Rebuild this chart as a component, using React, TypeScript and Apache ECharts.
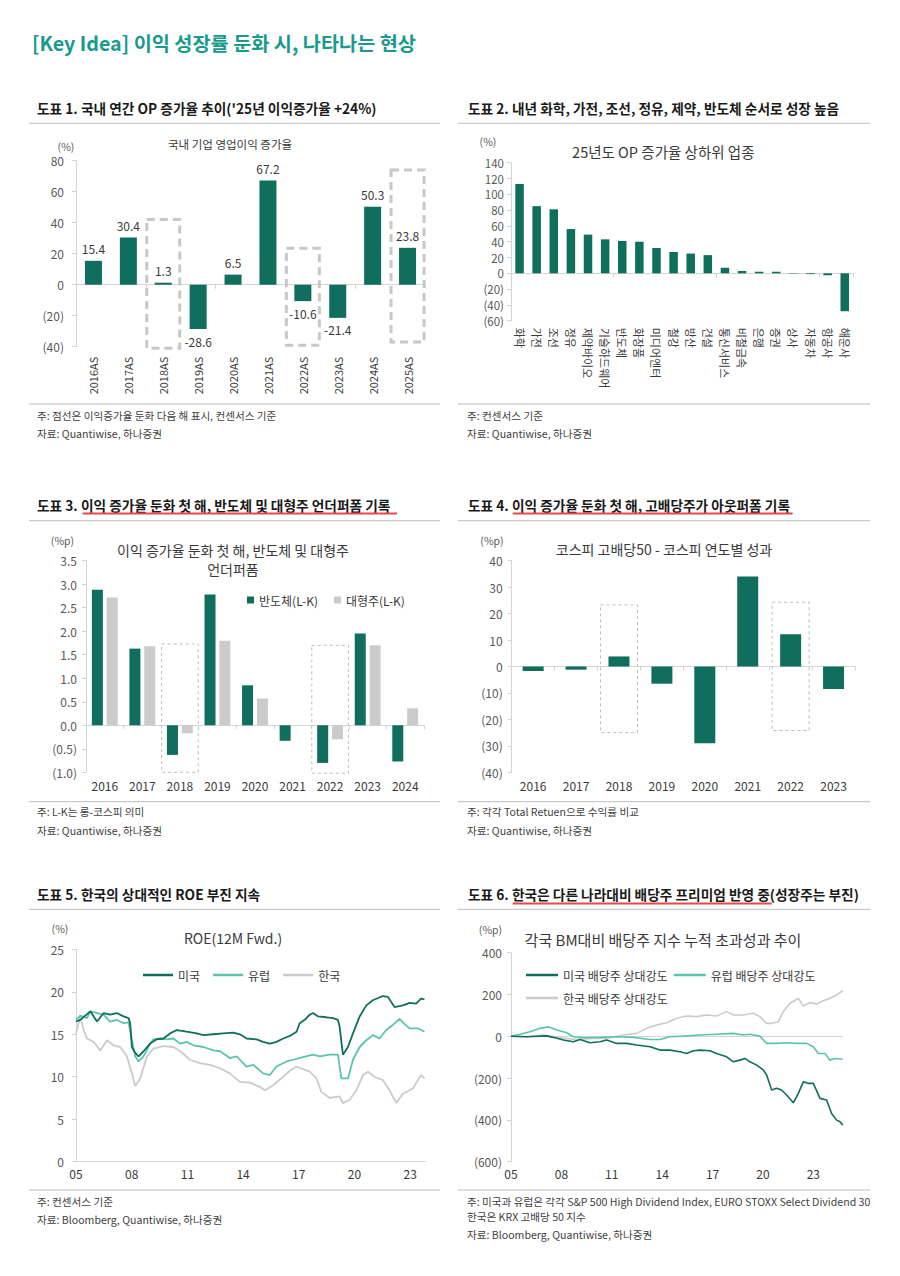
import React, { useEffect, useRef } from "react";
import * as echarts from "echarts";

const FONT = "'Noto Sans CJK KR', 'Noto Sans', sans-serif";
const DARK = "#0f6e5c";
const TEAL = "#5cc4ae";
const LGRAY = "#cbcbcb";
const AXIS = "#d4d4d4";
const LABEL = "#595959";
const TEXT = "#3a3a3a";

// ---------- Chart 1 ----------
const c1Cats = ["2016AS", "2017AS", "2018AS", "2019AS", "2020AS", "2021AS", "2022AS", "2023AS", "2024AS", "2025AS"];
const c1Vals = [15.4, 30.4, 1.3, -28.6, 6.5, 67.2, -10.6, -21.4, 50.3, 23.8];
const c1BoxCats = ["2018AS", "2022AS", "2025AS"];
const c1BoxTop = [42, 23.5, 74];
const c1BoxBottom = [-41, -39, -37];

// ---------- Chart 2 ----------
const c2Cats = ["화학", "가전", "조선", "정유", "제약바이오", "기술하드웨어", "반도체", "화장품", "미디어엔터", "철강", "방산", "건설", "통신서비스", "비철금속", "은행", "증권", "상사", "자동차", "항공사", "해운사"];
const c2Vals = [113, 85, 81, 56, 49, 43, 41, 40, 32, 27, 25, 23, 7, 3, 2, 2, -0.5, -1, -2.5, -48];

// ---------- Chart 3 ----------
const c3Years = ["2016", "2017", "2018", "2019", "2020", "2021", "2022", "2023", "2024"];
const c3Semi = [2.88, 1.63, -0.63, 2.78, 0.85, -0.33, -0.8, 1.95, -0.77];
const c3Large = [2.72, 1.68, -0.17, 1.8, 0.57, 0, -0.3, 1.7, 0.36];
const c3BoxCats = ["2018", "2022"];
const c3BoxTop = [1.73, 1.7];
const c3BoxBottom = [-1.0, -1.02];

// ---------- Chart 4 ----------
const c4Years = ["2016", "2017", "2018", "2019", "2020", "2021", "2022", "2023"];
const c4Vals = [-1.7, -1.2, 3.8, -6.5, -29, 34, 12.2, -8.5];
const c4BoxCats = ["2018", "2022"];
const c4BoxTop = [23.3, 24.3];
const c4BoxBottom = [-25, -24.2];

// ---------- Chart 5 (ROE) ----------
const usT = [2005.0, 2005.23, 2005.77, 2006.13, 2006.49, 2006.84, 2007.2, 2007.56, 2007.83, 2007.92, 2008.01, 2008.19, 2008.37, 2008.64, 2008.99, 2009.35, 2009.71, 2010.07, 2010.43, 2010.96, 2011.5, 2011.86, 2012.4, 2012.93, 2013.47, 2013.83, 2014.19, 2014.73, 2015.08, 2015.44, 2015.8, 2016.16, 2016.52, 2016.88, 2017.05, 2017.32, 2017.59, 2017.77, 2018.04, 2018.49, 2018.85, 2019.11, 2019.2, 2019.38, 2019.65, 2019.92, 2020.28, 2020.64, 2020.99, 2021.53, 2021.8, 2022.16, 2022.61, 2022.97, 2023.32, 2023.59, 2023.77];
const usV = [16.5, 16.7, 17.7, 16.5, 17.5, 17.3, 17.5, 17.1, 16.9, 16.3, 13.5, 12.8, 12.4, 13.0, 13.9, 14.4, 14.5, 15.1, 15.5, 15.3, 15.1, 14.9, 15.0, 15.1, 15.2, 15.0, 14.5, 14.4, 14.1, 13.9, 14.1, 14.5, 14.8, 15.3, 16.3, 16.7, 17.3, 17.5, 17.1, 17.0, 16.9, 16.7, 15.9, 12.6, 13.5, 15.1, 17.1, 18.4, 19.0, 19.5, 19.4, 18.2, 18.4, 18.7, 18.6, 19.2, 19.1];
const euT = [2005.0, 2005.23, 2005.59, 2005.77, 2006.13, 2006.49, 2006.84, 2007.2, 2007.56, 2007.83, 2008.01, 2008.19, 2008.37, 2008.64, 2008.9, 2009.17, 2009.53, 2009.89, 2010.25, 2010.61, 2010.96, 2011.32, 2011.86, 2012.4, 2012.76, 2013.29, 2013.65, 2014.19, 2014.55, 2015.08, 2015.44, 2015.8, 2016.34, 2016.7, 2017.23, 2017.77, 2018.13, 2018.67, 2019.11, 2019.2, 2019.29, 2019.65, 2019.92, 2020.28, 2020.64, 2020.99, 2021.35, 2021.71, 2022.07, 2022.43, 2022.7, 2022.97, 2023.41, 2023.77];
const euV = [16.7, 17.2, 16.9, 17.7, 17.5, 17.3, 16.5, 16.7, 16.3, 16.4, 14.3, 12.4, 11.8, 12.4, 13.5, 14.4, 14.5, 14.4, 14.5, 13.9, 14.1, 13.7, 13.5, 13.1, 13.0, 12.2, 12.4, 11.2, 11.4, 10.4, 10.2, 11.2, 11.8, 12.0, 12.3, 12.6, 12.4, 12.6, 12.6, 11.2, 9.8, 9.8, 12.0, 13.5, 14.3, 14.9, 14.5, 15.5, 16.1, 16.8, 16.2, 15.7, 15.7, 15.3];
const krT = [2005.0, 2005.23, 2005.41, 2005.59, 2005.95, 2006.31, 2006.67, 2007.02, 2007.38, 2007.74, 2008.01, 2008.19, 2008.46, 2008.82, 2009.17, 2009.71, 2010.25, 2010.61, 2011.14, 2011.68, 2012.22, 2012.76, 2013.29, 2013.83, 2014.37, 2014.91, 2015.17, 2015.62, 2016.16, 2016.52, 2016.88, 2017.23, 2017.59, 2017.95, 2018.22, 2018.67, 2019.2, 2019.38, 2019.74, 2020.1, 2020.46, 2020.73, 2021.08, 2021.53, 2021.89, 2022.25, 2022.61, 2023.14, 2023.59, 2023.77];
const krV = [15.1, 17.1, 15.5, 14.5, 14.1, 13.1, 14.3, 13.7, 13.5, 12.4, 10.4, 8.9, 9.8, 12.4, 13.3, 13.6, 13.5, 13.0, 12.0, 11.6, 11.4, 11.0, 10.4, 9.4, 9.3, 8.8, 8.4, 9.0, 10.0, 10.7, 11.2, 10.9, 10.6, 9.8, 8.2, 7.5, 7.7, 6.9, 7.3, 8.4, 10.2, 10.6, 10.0, 9.6, 8.4, 6.9, 8.0, 8.6, 10.2, 9.8];

// ---------- Chart 6 (dividend relative strength) ----------
const usDivT = [2005.0, 2005.93, 2007.12, 2007.52, 2008.12, 2008.71, 2009.11, 2009.7, 2010.3, 2010.7, 2011.29, 2011.89, 2012.48, 2013.28, 2013.87, 2014.47, 2015.06, 2015.46, 2015.86, 2016.25, 2016.85, 2017.24, 2017.84, 2018.24, 2018.63, 2018.93, 2019.23, 2019.63, 2020.02, 2020.22, 2020.52, 2020.82, 2021.11, 2021.41, 2021.81, 2022.11, 2022.4, 2022.7, 2023.0, 2023.4, 2023.79, 2024.09, 2024.39, 2024.59, 2024.75];
const usDivV = [0, -2, 2, -5, -18, -26, -15, -31, -26, -18, -34, -34, -42, -50, -66, -66, -74, -82, -69, -66, -69, -82, -98, -122, -114, -106, -122, -138, -161, -185, -257, -249, -257, -281, -318, -273, -218, -225, -225, -297, -305, -369, -401, -409, -425];
const euDivT = [2005.0, 2005.54, 2006.13, 2006.73, 2007.22, 2007.72, 2008.31, 2008.71, 2009.31, 2010.3, 2011.29, 2012.28, 2013.28, 2013.87, 2014.47, 2015.26, 2016.25, 2017.24, 2018.24, 2018.83, 2019.23, 2019.82, 2020.22, 2020.82, 2021.41, 2022.01, 2022.6, 2023.0, 2023.3, 2023.69, 2023.99, 2024.29, 2024.75];
const euDivV = [0, 10, 22, 38, 46, 30, 17, -2, -7, -5, -2, -5, -15, -15, -2, 1, 6, 10, 14, 6, 10, 1, -34, -34, -31, -34, -34, -50, -82, -82, -114, -106, -110];
const krDivT = [2005.0, 2005.93, 2006.92, 2007.72, 2008.91, 2009.9, 2010.7, 2011.69, 2012.48, 2013.08, 2013.67, 2014.27, 2014.86, 2015.46, 2016.05, 2016.65, 2017.24, 2017.84, 2018.24, 2018.83, 2019.43, 2019.82, 2020.22, 2020.52, 2020.92, 2021.21, 2021.61, 2022.11, 2022.4, 2022.8, 2023.2, 2023.6, 2023.99, 2024.39, 2024.75];
const krDivV = [0, -2, 6, -5, -15, -10, -10, 6, 14, 38, 54, 65, 86, 97, 94, 102, 97, 118, 102, 102, 110, 94, 62, 62, 70, 118, 158, 182, 145, 161, 154, 170, 182, 198, 218];

const BASE_YEAR = 2005;

const paren = (d: number) => (v: number) => (v < 0 ? `(${(-v).toFixed(d)})` : v.toFixed(d));
const yearLabel = (v: number) => {
  const r = Math.round(v);
  if (Math.abs(v - r) > 1e-6 || r % 3 !== 0) return "";
  return String((BASE_YEAR + r) % 100).padStart(2, "0");
};
const pairs = (t: number[], v: number[]) => t.map((x, i) => [x - BASE_YEAR, v[i]]);

function yAx(grid: number, min: number, max: number, interval: number, fmt: any, margin: number, fontSize = 12) {
  return {
    type: "value", gridIndex: grid, min, max, interval,
    axisLine: { show: true, lineStyle: { color: AXIS } },
    axisTick: { show: true, length: 4, lineStyle: { color: AXIS } },
    splitLine: { show: false },
    axisLabel: { formatter: fmt, color: LABEL, fontSize, fontFamily: FONT, margin },
  };
}

function catAxes(grid: number, cats: string[], label: any) {
  return [
    {
      type: "category", gridIndex: grid, data: cats, position: "bottom",
      axisLine: { show: false, onZero: false }, axisTick: { show: false },
      axisLabel: { color: TEXT, fontFamily: FONT, interval: 0, ...label },
    },
    {
      type: "category", gridIndex: grid, data: cats, position: "bottom",
      axisLine: { show: true, onZero: true, lineStyle: { color: AXIS } },
      axisTick: { show: true, length: 4, lineStyle: { color: AXIS } },
      axisLabel: { show: false },
    },
  ];
}

function buildOption(): any {
  const grids = [
    { left: 76, top: 160.7, width: 349, height: 186 },
    { left: 511, top: 162.7, width: 342.3, height: 158 },
    { left: 86, top: 560.7, width: 338, height: 211.6 },
    { left: 511.7, top: 560.7, width: 343.3, height: 211.6 },
    { left: 76, top: 949.3, width: 349, height: 212.4 },
    { left: 511, top: 952.7, width: 331.7, height: 209 },
  ].map((g) => ({ ...g, containLabel: false, outerBoundsMode: "none" }));

  const xAxis: any[] = [
    ...catAxes(0, c1Cats, { rotate: 90, fontSize: 11, margin: 10 }),
    ...catAxes(1, c2Cats, { rotate: -90, fontSize: 11, margin: 7 }),
    ...catAxes(2, c3Years, { fontSize: 12, margin: 7 }),
    ...catAxes(3, c4Years, { fontSize: 12, margin: 7 }),
    {
      type: "value", gridIndex: 4, min: 0, max: 18.8, interval: 3,
      axisLine: { show: true, lineStyle: { color: AXIS } }, axisTick: { show: false },
      splitLine: { show: false },
      axisLabel: { formatter: yearLabel, color: TEXT, fontSize: 12, fontFamily: FONT, margin: 6, showMaxLabel: false },
    },
    {
      type: "value", gridIndex: 5, min: 0, max: 19.75, interval: 3, position: "bottom",
      axisLine: { show: false, onZero: false }, axisTick: { show: false }, splitLine: { show: false },
      axisLabel: { formatter: yearLabel, color: TEXT, fontSize: 12, fontFamily: FONT, margin: 6, showMaxLabel: false },
    },
    {
      type: "value", gridIndex: 5, min: 0, max: 19.75, interval: 3, position: "bottom",
      axisLine: { show: true, onZero: true, lineStyle: { color: AXIS } }, axisTick: { show: false },
      splitLine: { show: false }, axisLabel: { show: false },
    },
  ];

  const yAxis = [
    yAx(0, -40, 80, 20, paren(0), 12),
    yAx(1, -60, 140, 20, paren(0), 7, 11.5),
    yAx(2, -1, 3.5, 0.5, paren(1), 9),
    yAx(3, -40, 40, 10, paren(0), 9),
    yAx(4, 0, 25, 5, paren(0), 12),
    yAx(5, -600, 400, 200, paren(0), 9),
  ];

  const barLabel = (v: number) => ({ value: v, label: { position: v < 0 ? "bottom" : "top" } });

  const series: any[] = [
    {
      type: "bar", name: "영업이익 증가율", xAxisIndex: 0, yAxisIndex: 0, barWidth: 17,
      data: c1Vals.map(barLabel), itemStyle: { color: DARK },
      label: { show: true, formatter: (p: any) => Number(p.value).toFixed(1), fontSize: 12, color: TEXT, fontFamily: FONT, distance: 6 },
    },
    { type: "bar", name: "OP 증가율", xAxisIndex: 2, yAxisIndex: 1, barWidth: 8.5, data: c2Vals, itemStyle: { color: DARK } },
    { type: "bar", name: "반도체(L-K)", xAxisIndex: 4, yAxisIndex: 2, barWidth: 11, barGap: "35%", data: c3Semi, itemStyle: { color: DARK } },
    { type: "bar", name: "대형주(L-K)", xAxisIndex: 4, yAxisIndex: 2, barWidth: 11, barGap: "35%", data: c3Large, itemStyle: { color: LGRAY } },
    { type: "bar", name: "고배당50-코스피", xAxisIndex: 6, yAxisIndex: 3, barWidth: 21, data: c4Vals, itemStyle: { color: DARK } },
    { type: "line", name: "한국", xAxisIndex: 8, yAxisIndex: 4, data: pairs(krT, krV), symbol: "none", lineStyle: { color: LGRAY, width: 1.8 }, itemStyle: { color: LGRAY } },
    { type: "line", name: "유럽", xAxisIndex: 8, yAxisIndex: 4, data: pairs(euT, euV), symbol: "none", lineStyle: { color: TEAL, width: 1.8 }, itemStyle: { color: TEAL } },
    { type: "line", name: "미국", xAxisIndex: 8, yAxisIndex: 4, data: pairs(usT, usV), symbol: "none", lineStyle: { color: DARK, width: 1.8 }, itemStyle: { color: DARK } },
    { type: "line", name: "한국 배당주 상대강도", xAxisIndex: 9, yAxisIndex: 5, data: pairs(krDivT, krDivV), symbol: "none", lineStyle: { color: LGRAY, width: 1.6 }, itemStyle: { color: LGRAY } },
    { type: "line", name: "유럽 배당주 상대강도", xAxisIndex: 9, yAxisIndex: 5, data: pairs(euDivT, euDivV), symbol: "none", lineStyle: { color: TEAL, width: 1.6 }, itemStyle: { color: TEAL } },
    { type: "line", name: "미국 배당주 상대강도", xAxisIndex: 9, yAxisIndex: 5, data: pairs(usDivT, usDivV), symbol: "none", lineStyle: { color: DARK, width: 1.6 }, itemStyle: { color: DARK } },
  ];

  const legendText = { fontSize: 12, color: TEXT, fontFamily: FONT };
  const lineLegend = { icon: "rect", itemHeight: 2.5, textStyle: legendText, selectedMode: false };
  const legend = [
    { data: ["반도체(L-K)", "대형주(L-K)"], left: 242, top: 589, icon: "rect", itemWidth: 7, itemHeight: 7, itemGap: 16, textStyle: legendText, selectedMode: false },
    { ...lineLegend, data: ["미국", "유럽", "한국"], left: 138, top: 964, itemWidth: 30, itemGap: 13 },
    { ...lineLegend, data: ["미국 배당주 상대강도", "유럽 배당주 상대강도"], left: 521, top: 964, itemWidth: 32, itemGap: 6 },
    { ...lineLegend, data: ["한국 배당주 상대강도"], left: 521, top: 987, itemWidth: 32 },
  ];

  return { animation: false, backgroundColor: "#ffffff", textStyle: { fontFamily: FONT }, grid: grids, xAxis, yAxis, series, legend };
}

function txt(x: number, y: number, text: string, size: number, opts: any = {}) {
  return {
    type: "text", x, y, silent: true,
    style: {
      text, fontSize: size, fontFamily: FONT, fontWeight: opts.bold ? "bold" : "normal",
      fill: opts.fill || TEXT, textAlign: opts.align || "left", textVerticalAlign: "middle",
    },
  };
}
function hline(x1: number, x2: number, y: number, stroke: string, w = 1) {
  return { type: "line", silent: true, shape: { x1, y1: y, x2, y2: y }, style: { stroke, lineWidth: w } };
}

function staticGraphics(): any[] {
  const H = "#1a1a1a";
  const RULE = "#bdbdbd";
  const RED = "#e8484b";
  const L = [29, 440];
  const R = [458, 870];
  const g: any[] = [];
  g.push(txt(32, 42, "[Key Idea] 이익 성장률 둔화 시, 나타나는 현상", 19.7, { bold: true, fill: "#1a9a8c" }));

  const headers: [number, number, string][] = [
    [37, 108, "도표 1. 국내 연간 OP 증가율 추이('25년 이익증가율 +24%)"],
    [468, 108, "도표 2. 내년 화학, 가전, 조선, 정유, 제약, 반도체 순서로 성장 높음"],
    [37, 505, "도표 3. 이익 증가율 둔화 첫 해, 반도체 및 대형주 언더퍼폼 기록"],
    [468, 505, "도표 4. 이익 증가율 둔화 첫 해, 고배당주가 아웃퍼폼 기록"],
    [37, 894, "도표 5. 한국의 상대적인 ROE 부진 지속"],
    [468, 894, "도표 6. 한국은 다른 나라대비 배당주 프리미엄 반영 중(성장주는 부진)"],
  ];
  headers.forEach(([x, y, t]) => g.push(txt(x, y, t, 13.7, { bold: true, fill: H })));

  [123.3, 520.7, 909.3, 404, 801.7, 1190].forEach((y) => {
    g.push(hline(L[0], L[1], y, RULE));
    g.push(hline(R[0], R[1], y, RULE));
  });

  g.push(hline(82.7, 397, 513.5, RED, 2));
  g.push(hline(512.7, 792.7, 513.5, RED, 2));
  g.push(hline(512.7, 771.7, 903.5, RED, 2));

  const notes: [number, number, string][] = [
    [37, 415.7, "주: 점선은 이익증가율 둔화 다음 해 표시, 컨센서스 기준"],
    [37, 433, "자료: Quantiwise, 하나증권"],
    [467, 415.7, "주: 컨센서스 기준"],
    [467, 433, "자료: Quantiwise, 하나증권"],
    [37, 811.7, "주: L-K는 롱-코스피 의미"],
    [37, 830, "자료: Quantiwise, 하나증권"],
    [467, 811.7, "주: 각각 Total Retuen으로 수익률 비교"],
    [467, 830, "자료: Quantiwise, 하나증권"],
    [37, 1201, "주: 컨센서스 기준"],
    [37, 1219.3, "자료: Bloomberg, Quantiwise, 하나증권"],
    [467, 1201, "주: 미국과 유럽은 각각 S&P 500 High Dividend Index, EURO STOXX Select Dividend 30"],
    [467, 1216.7, "한국은 KRX 고배당 50 지수"],
    [467, 1234, "자료: Bloomberg, Quantiwise, 하나증권"],
  ];
  notes.forEach(([x, y, t]) => g.push(txt(x, y, t, 10.6, { fill: "#404040" })));

  const units: [number, number, string][] = [
    [66, 146, "(%)"], [488, 141.7, "(%)"], [62.5, 540, "(%p)"], [492, 540, "(%p)"], [60, 928.3, "(%)"], [490.5, 929, "(%p)"],
  ];
  units.forEach(([x, y, t]) => g.push(txt(x, y, t, 10.5, { fill: LABEL, align: "center" })));

  g.push(txt(230, 144.3, "국내 기업 영업이익 증가율", 11.5, { align: "center" }));
  g.push(txt(663.3, 151.7, "25년도 OP 증가율 상하위 업종", 14.5, { align: "center" }));
  g.push(txt(233, 550, "이익 증가율 둔화 첫 해, 반도체 및 대형주", 14, { align: "center" }));
  g.push(txt(233, 569, "언더퍼폼", 14, { align: "center" }));
  g.push(txt(664, 549.3, "코스피 고배당50 - 코스피 연도별 성과", 14, { align: "center" }));
  g.push(txt(233, 938.3, "ROE(12M Fwd.)", 14, { align: "center" }));
  g.push(txt(663, 939.3, "각국 BM대비 배당주 지수 누적 초과성과 추이", 15, { align: "center" }));
  return g;
}

function makeBoxes(chart: any, seriesIndex: number, cats: string[], tops: number[], bottoms: number[], half: number, style: any) {
  return cats.map((c, i) => {
    const p1 = chart.convertToPixel({ seriesIndex }, [c, tops[i]]) as number[];
    const p2 = chart.convertToPixel({ seriesIndex }, [c, bottoms[i]]) as number[];
    return {
      type: "rect", silent: true, z: 10,
      shape: { x: p1[0] - half, y: p1[1], width: 2 * half, height: p2[1] - p1[1] },
      style: { fill: "none", ...style },
    };
  });
}

export default function App() {
  const ref = useRef<HTMLDivElement>(null);
  useEffect(() => {
    if (!ref.current) return;
    const chart = echarts.init(ref.current, null, { renderer: "svg" });
    chart.setOption(buildOption());
    const thick = { stroke: "#c8c8c8", lineWidth: 3, lineDash: [8, 5] };
    const thin = { stroke: "#bdbdbd", lineWidth: 1, lineDash: [3, 3] };
    const boxes = [
      ...makeBoxes(chart, 0, c1BoxCats, c1BoxTop, c1BoxBottom, 16.5, thick),
      ...makeBoxes(chart, 2, c3BoxCats, c3BoxTop, c3BoxBottom, 18.3, thin),
      ...makeBoxes(chart, 4, c4BoxCats, c4BoxTop, c4BoxBottom, 18.5, thin),
    ];
    chart.setOption({ graphic: [...staticGraphics(), ...boxes] });
    return () => chart.dispose();
  }, []);
  return <div ref={ref} style={{ position: "absolute", left: 0, top: 0, width: 900, height: 1276, background: "#fff" }} />;
}
